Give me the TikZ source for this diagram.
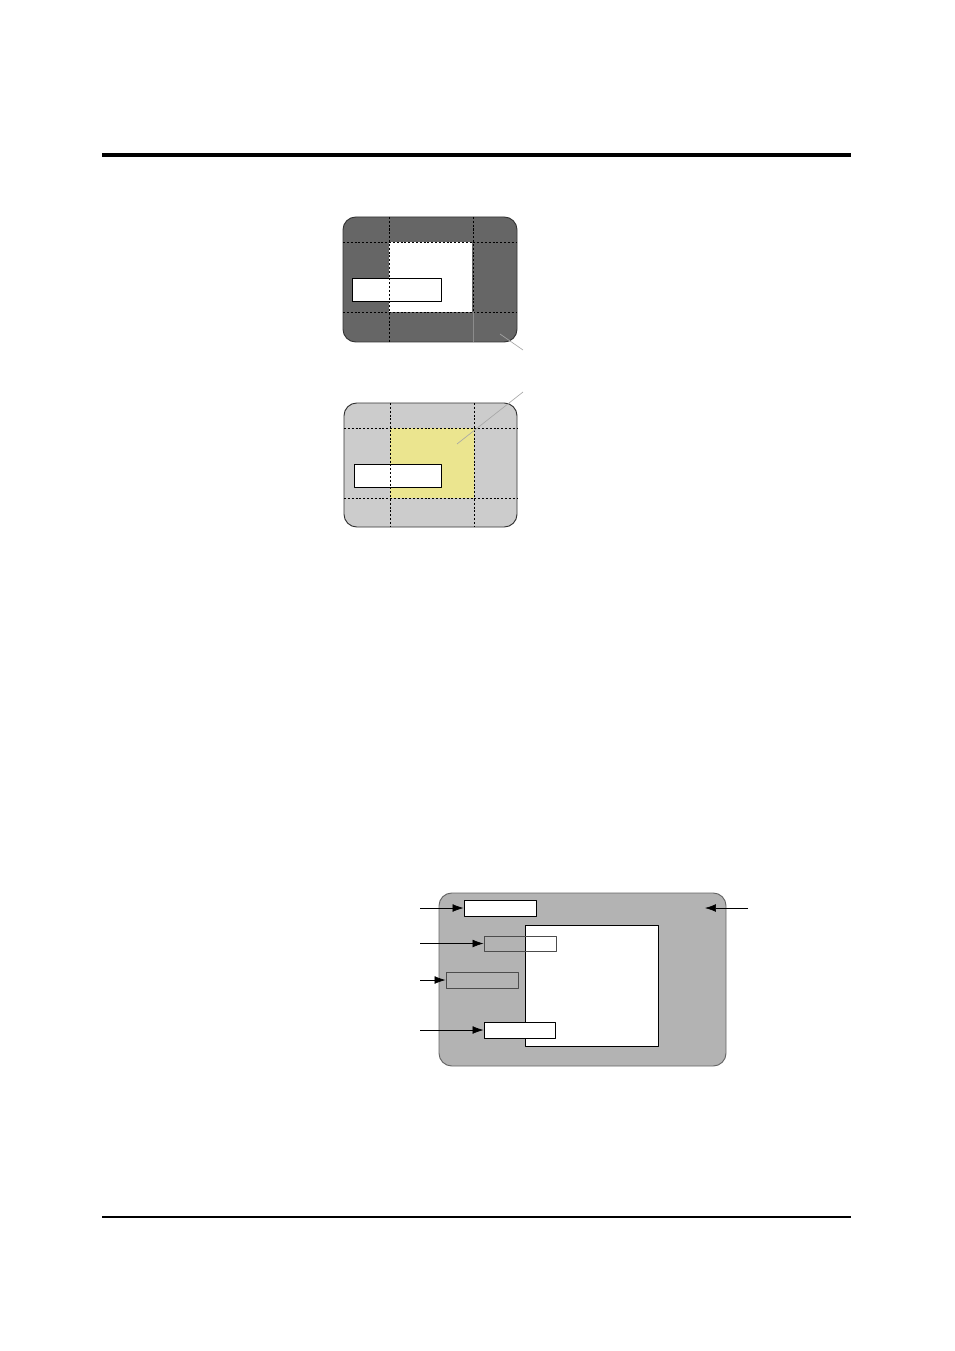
\documentclass[tikz,border=0pt]{standalone}
\usetikzlibrary{fit,arrows.meta}
\definecolor{darkpanel}{HTML}{666666}
\definecolor{lightpanel}{HTML}{CCCCCC}
\definecolor{midpanel}{HTML}{B3B3B3}
\definecolor{paleyellow}{HTML}{EBE58F}
\begin{document}
\begin{tikzpicture}[x=0.22mm,y=-0.22mm,line join=round,>={Latex[length=2.4mm,width=1.7mm]},
	panel/.style={draw=black!80,line width=0.6pt,rounded corners=2.8mm},
	grid line/.style={dash pattern=on 1.3pt off 1.1pt,line width=0.5pt},
	whitebox/.style={draw,fill=white,inner sep=0pt,line width=0.6pt},
	graybox/.style={draw=black!70,inner sep=0pt,line width=0.6pt},
	leader/.style={draw=black!35,line width=0.4pt}]
	\useasboundingbox (0,0) rectangle (954,1351);
	%		rules
	\draw[line width=2pt] (102,155)--(851,155);
	\draw[line width=0.7pt] (102,1217)--(851,1217);
	
	% panel 1
	\draw[panel,fill=darkpanel] (343,217) rectangle (517,342);
	\fill[white] (389,242) rectangle (472,312);
	\node[whitebox,fit={(352,278) (441,301)}] (boxA) {};
	\draw[grid line] (343,242)--(517,242);
	\draw[grid line] (343,312)--(517,312);
	\draw[grid line] (389,217)--(389,342);
	\draw[grid line] (473,217)--(473,312);
	\draw[draw=black!45,line width=0.4pt] (473,312)--(473,342);
	\draw[leader] (500,334)--(523,350);
	
	% panel 2
	\draw[panel,fill=lightpanel] (344,403) rectangle (517,527);
	\fill[paleyellow] (390,428) rectangle (474,498);
	\node[whitebox,fit={(354,464) (441,487)}] (boxB) {};
	\draw[grid line] (344,428)--(517,428);
	\draw[grid line] (344,498)--(517,498);
	\draw[grid line] (390,403)--(390,527);
	\draw[grid line] (474,403)--(474,527);
	\draw[leader] (457,444)--(523,392);
	
	% panel 3
	\draw[panel,draw=black!60,fill=midpanel] (439,893) rectangle (726,1066);
	\node[whitebox,fit={(525,925) (658,1046)}] (win) {};
	\node[whitebox,fit={(464,900) (536,916)}] (lblA) {};
	\node[graybox,fit={(484,936) (556,951)}] (lblB) {};
	\node[graybox,fit={(446,972) (518,988)}] (lblC) {};
	\node[whitebox,fit={(484,1022) (555,1038)}] (lblD) {};
	\coordinate (inA) at (420,908);
	\coordinate (inB) at (420,943.5);
	\coordinate (inC) at (420,980);
	\coordinate (inD) at (420,1030);
	\coordinate (inE) at (748,908);
	\coordinate (tipE) at (705,908);
	\draw[->] (inA)--(lblA.west);
	\draw[->] (inB)--(lblB.west);
	\draw[->] (inC)--(lblC.west);
	\draw[->] (inD)--(lblD.west);
	\draw[->] (inE)--(tipE);
\end{tikzpicture}
\end{document}
